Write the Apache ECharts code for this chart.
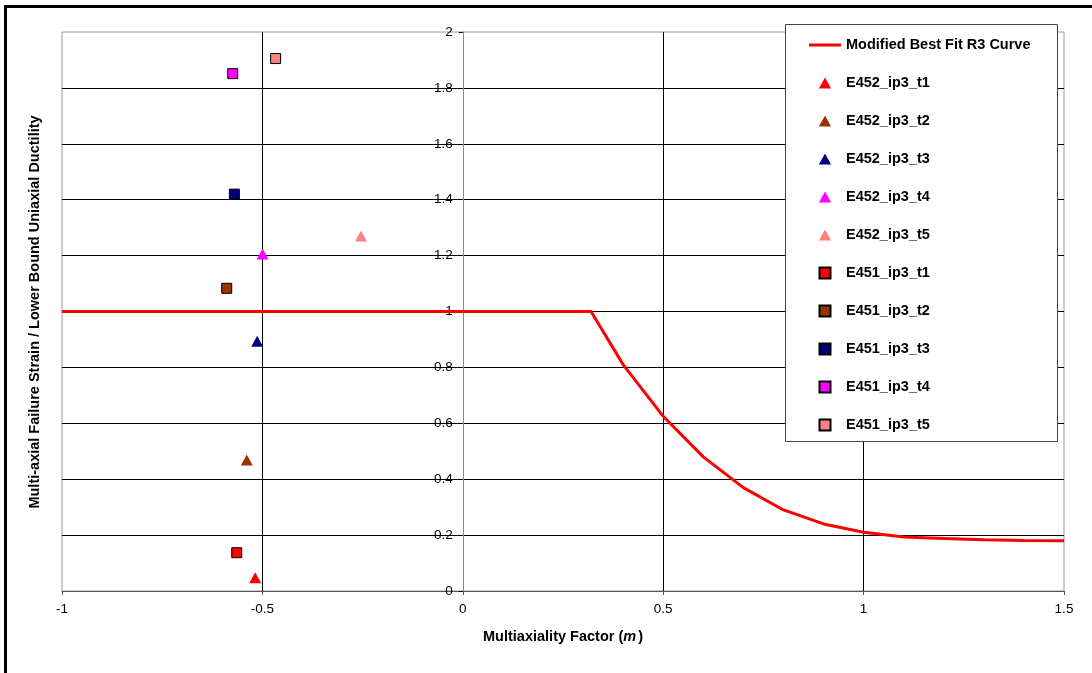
<!DOCTYPE html>
<html>
<head>
<meta charset="utf-8">
<script src="https://cdn.jsdelivr.net/npm/echarts@6/dist/echarts.min.js"></script>
<style>
html,body{margin:0;padding:0;background:#fff;}
#c{width:1092px;height:673px;}
</style>
</head>
<body>
<div id="c"></div>
<script>
// ---- data ----
var curveX = [-1, 0.32, 0.4, 0.5, 0.6, 0.7, 0.8, 0.9, 1.0, 1.1, 1.2, 1.3, 1.4, 1.5];
var curveY = [1, 1, 0.81, 0.625, 0.48, 0.37, 0.29, 0.24, 0.21, 0.193, 0.188, 0.183, 0.181, 0.18];

var triNames = ['E452_ip3_t1', 'E452_ip3_t2', 'E452_ip3_t3', 'E452_ip3_t4', 'E452_ip3_t5'];
var triX = [-0.518, -0.539, -0.513, -0.4995, -0.254];
var triY = [0.047, 0.469, 0.894, 1.206, 1.270];

var sqNames = ['E451_ip3_t1', 'E451_ip3_t2', 'E451_ip3_t3', 'E451_ip3_t4', 'E451_ip3_t5'];
var sqX = [-0.564, -0.589, -0.570, -0.574, -0.467];
var sqY = [0.137, 1.083, 1.420, 1.851, 1.905];

var colors = ['#FF0000', '#993300', '#000080', '#FF00FF', '#FF8080'];
var curveName = 'Modified Best Fit R3 Curve';
var yTitle = 'Multi-axial Failure Strain / Lower Bound Uniaxial Ductility';

var X_MIN = -1, X_MAX = 1.5;

// ---- build ----
var FONT = "'Liberation Sans', Arial, sans-serif";
var TRI_ICON = 'path://M5,0L10,9L0,9Z';
var SQ_ICON = 'path://M0,0H10V10H0Z';
var LINE_ICON = 'path://M0,0H32V3H0Z';

var W = 1092, GRID_L = 62, GRID_R = 28;
var plotW = W - GRID_L - GRID_R;
// place the y axis line where x = 0
var yAxisOffset = -((0 - X_MIN) / (X_MAX - X_MIN)) * plotW;

var series = [];
var legendData = [{name: curveName, icon: LINE_ICON}];
series.push({
  name: curveName, type: 'line', symbol: 'none', z: 2,
  lineStyle: {color: '#FF0000', width: 3},
  itemStyle: {color: '#FF0000'},
  data: curveX.map(function (x, i) { return [x, curveY[i]]; })
});
triNames.forEach(function (n, i) {
  legendData.push({name: n, icon: TRI_ICON});
  series.push({
    name: n, type: 'scatter', symbol: 'triangle', symbolSize: [12, 11], z: 3,
    itemStyle: {color: colors[i], opacity: 1},
    data: [[triX[i], triY[i]]]
  });
});
sqNames.forEach(function (n, i) {
  legendData.push({name: n, icon: SQ_ICON});
  series.push({
    name: n, type: 'scatter', symbol: 'rect', symbolSize: 10, z: 3,
    itemStyle: {color: colors[i], borderColor: '#000', borderWidth: 1, opacity: 1},
    data: [[sqX[i], sqY[i]]]
  });
});

var chart = echarts.init(document.getElementById('c'), null, {renderer: 'canvas'});
chart.setOption({
  animation: false,
  backgroundColor: '#fff',
  textStyle: {fontFamily: FONT},
  grid: {left: GRID_L, right: GRID_R, top: 32, bottom: 82, show: true, borderColor: '#999', borderWidth: 1, backgroundColor: 'transparent'},
  xAxis: {
    type: 'value', min: X_MIN, max: X_MAX, interval: 0.5,
    name: '{b|Multiaxiality Factor (}{i|m}{b|)}',
    nameLocation: 'middle', nameGap: 38,
    nameTextStyle: {rich: {
      b: {fontFamily: FONT, fontSize: 14.5, fontWeight: 'bold', color: '#000'},
      i: {fontFamily: FONT, fontSize: 14.5, fontWeight: 'bold', fontStyle: 'italic', color: '#000', padding: [0, 2, 0, 0]}
    }},
    axisLine: {onZero: false, lineStyle: {color: '#555', width: 1}},
    axisTick: {show: true, length: 4, lineStyle: {color: '#555'}},
    axisLabel: {fontFamily: FONT, fontSize: 13.5, color: '#000', margin: 11},
    splitLine: {show: true, showMinLine: false, showMaxLine: false, lineStyle: {color: '#000', width: 1}}
  },
  yAxis: {
    type: 'value', min: 0, max: 2, interval: 0.2,
    position: 'left', offset: yAxisOffset,
    axisLine: {show: true, onZero: false, lineStyle: {color: '#888', width: 1}},
    axisTick: {show: true, length: 4, lineStyle: {color: '#000'}},
    axisLabel: {fontFamily: FONT, fontSize: 13.5, color: '#000', margin: 10},
    splitLine: {show: true, showMinLine: false, showMaxLine: false, lineStyle: {color: '#000', width: 1}}
  },
  legend: {
    orient: 'vertical', left: 809, top: 37, padding: 0,
    itemWidth: 32, itemHeight: 11, itemGap: 22, z: 10,
    symbolKeepAspect: true,
    textStyle: {fontFamily: FONT, fontSize: 14.5, fontWeight: 'bold', color: '#000', lineHeight: 16},
    data: legendData
  },
  graphic: [
    {type: 'rect', z: 8, shape: {x: 785.5, y: 24.5, width: 272, height: 417},
     style: {fill: '#fff', stroke: '#444', lineWidth: 1}},
    {type: 'rect', z: 20, shape: {x: 5.5, y: 6.5, width: 1200, height: 800},
     style: {fill: null, stroke: '#000', lineWidth: 3}},
    {type: 'text', z: 20, x: 35, y: 312, rotation: Math.PI / 2,
     style: {text: yTitle, font: 'bold 14.5px ' + FONT, fill: '#000', textAlign: 'center', textVerticalAlign: 'middle'}}
  ],
  series: series
});
</script>
</body>
</html>
